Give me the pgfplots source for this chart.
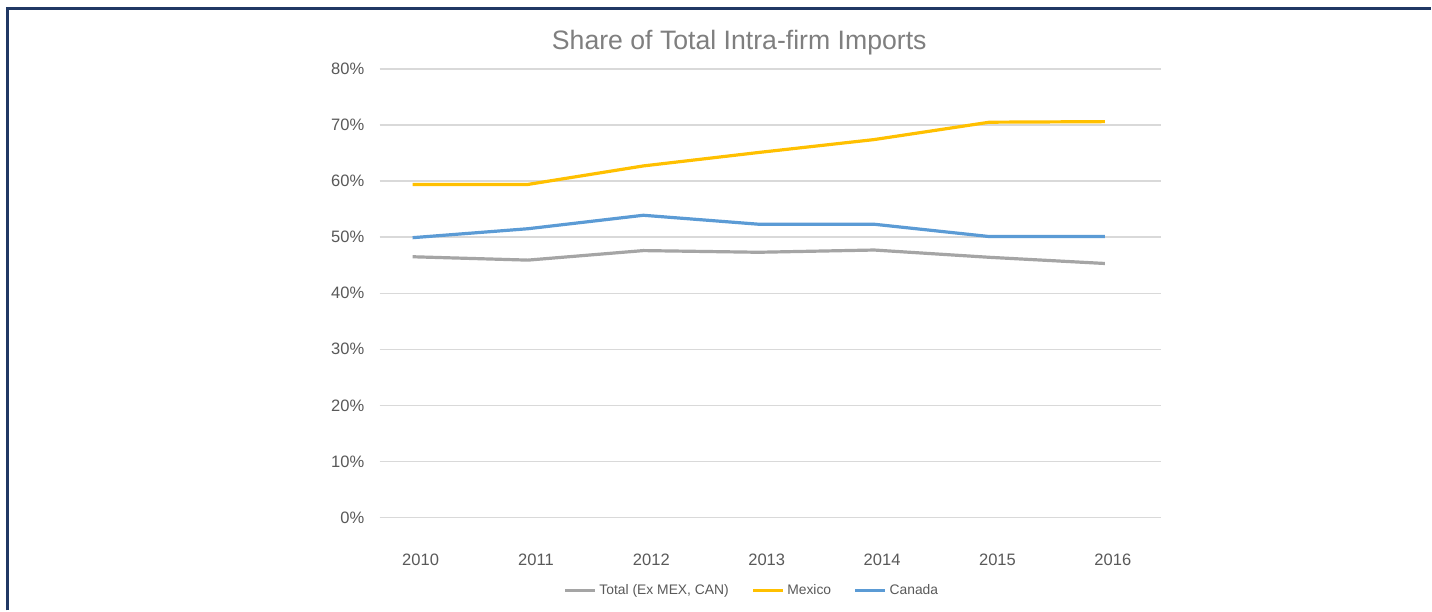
\documentclass[border=0pt]{standalone}
\usepackage{fontspec}
\setmainfont{Liberation Sans}
\usepackage{pgfplots}
\pgfplotsset{compat=1.18}

\definecolor{totalgray}{HTML}{A5A5A5}
\definecolor{mexyellow}{HTML}{FFC000}
\definecolor{canblue}{HTML}{5B9BD5}
\definecolor{gridgray}{HTML}{D9D9D9}
\definecolor{textgray}{HTML}{595959}
\definecolor{titlegray}{HTML}{7F7F7F}
\definecolor{framenavy}{HTML}{203864}

\begin{document}
\begin{tikzpicture}
  % page: 1432 x 611 px at 0.75pt per px
  \fill[white] (0,0) rectangle (1074pt,458.25pt);
  \draw[framenavy,line width=2.25pt] (5.4pt,0pt) -- (5.4pt,452pt) -- (1074pt,452pt);

  \node[font=\fontsize{20}{24}\selectfont,text=titlegray] at (555pt,426pt)
    {Share of Total Intra-firm Imports};

  \begin{axis}[
    at={(285pt,69.75pt)},
    anchor=south west,
    scale only axis,
    width=586.5pt,
    height=336.75pt,
    xmin=-0.286, xmax=6.485,
    ymin=0, ymax=80,
    xtick={0,...,6},
    xticklabels={2010,2011,2012,2013,2014,2015,2016},
    ytick={0,10,...,80},
    yticklabel={\pgfmathprintnumber{\tick}\%},
    /pgf/number format/assume math mode=true,
    ymajorgrids,
    major grid style={gridgray,line width=1pt},
    axis line style={draw=none},
    major tick style={draw=none},
    tick label style={font=\fontsize{12.4}{14}\selectfont,text=textgray},
    xticklabel style={anchor=center,yshift=-31.5pt,xshift=6pt},
    yticklabel style={anchor=east,xshift=-8pt},
    legend columns=3,
    legend style={at={(0.477,-0.163)},anchor=center,draw=none,fill=none,
      font=\fontsize{10.4}{12}\selectfont,text=textgray,
      /tikz/every even column/.append style={column sep=15pt}},
    legend image code/.code={\draw[#1] (0pt,0pt) -- (22.5pt,0pt);},
  ]
    \addplot[totalgray,line width=2.4pt] coordinates
      {(0,46.5) (1,45.9) (2,47.6) (3,47.3) (4,47.7) (5,46.4) (6,45.3)};
    \addlegendentry{Total (Ex MEX, CAN)}
    \addplot[mexyellow,line width=2.4pt] coordinates
      {(0,59.4) (1,59.4) (2,62.7) (3,65.1) (4,67.4) (5,70.5) (6,70.6)};
    \addlegendentry{Mexico}
    \addplot[canblue,line width=2.4pt] coordinates
      {(0,49.9) (1,51.5) (2,53.9) (3,52.3) (4,52.3) (5,50.1) (6,50.1)};
    \addlegendentry{Canada}
  \end{axis}
\end{tikzpicture}
\end{document}
